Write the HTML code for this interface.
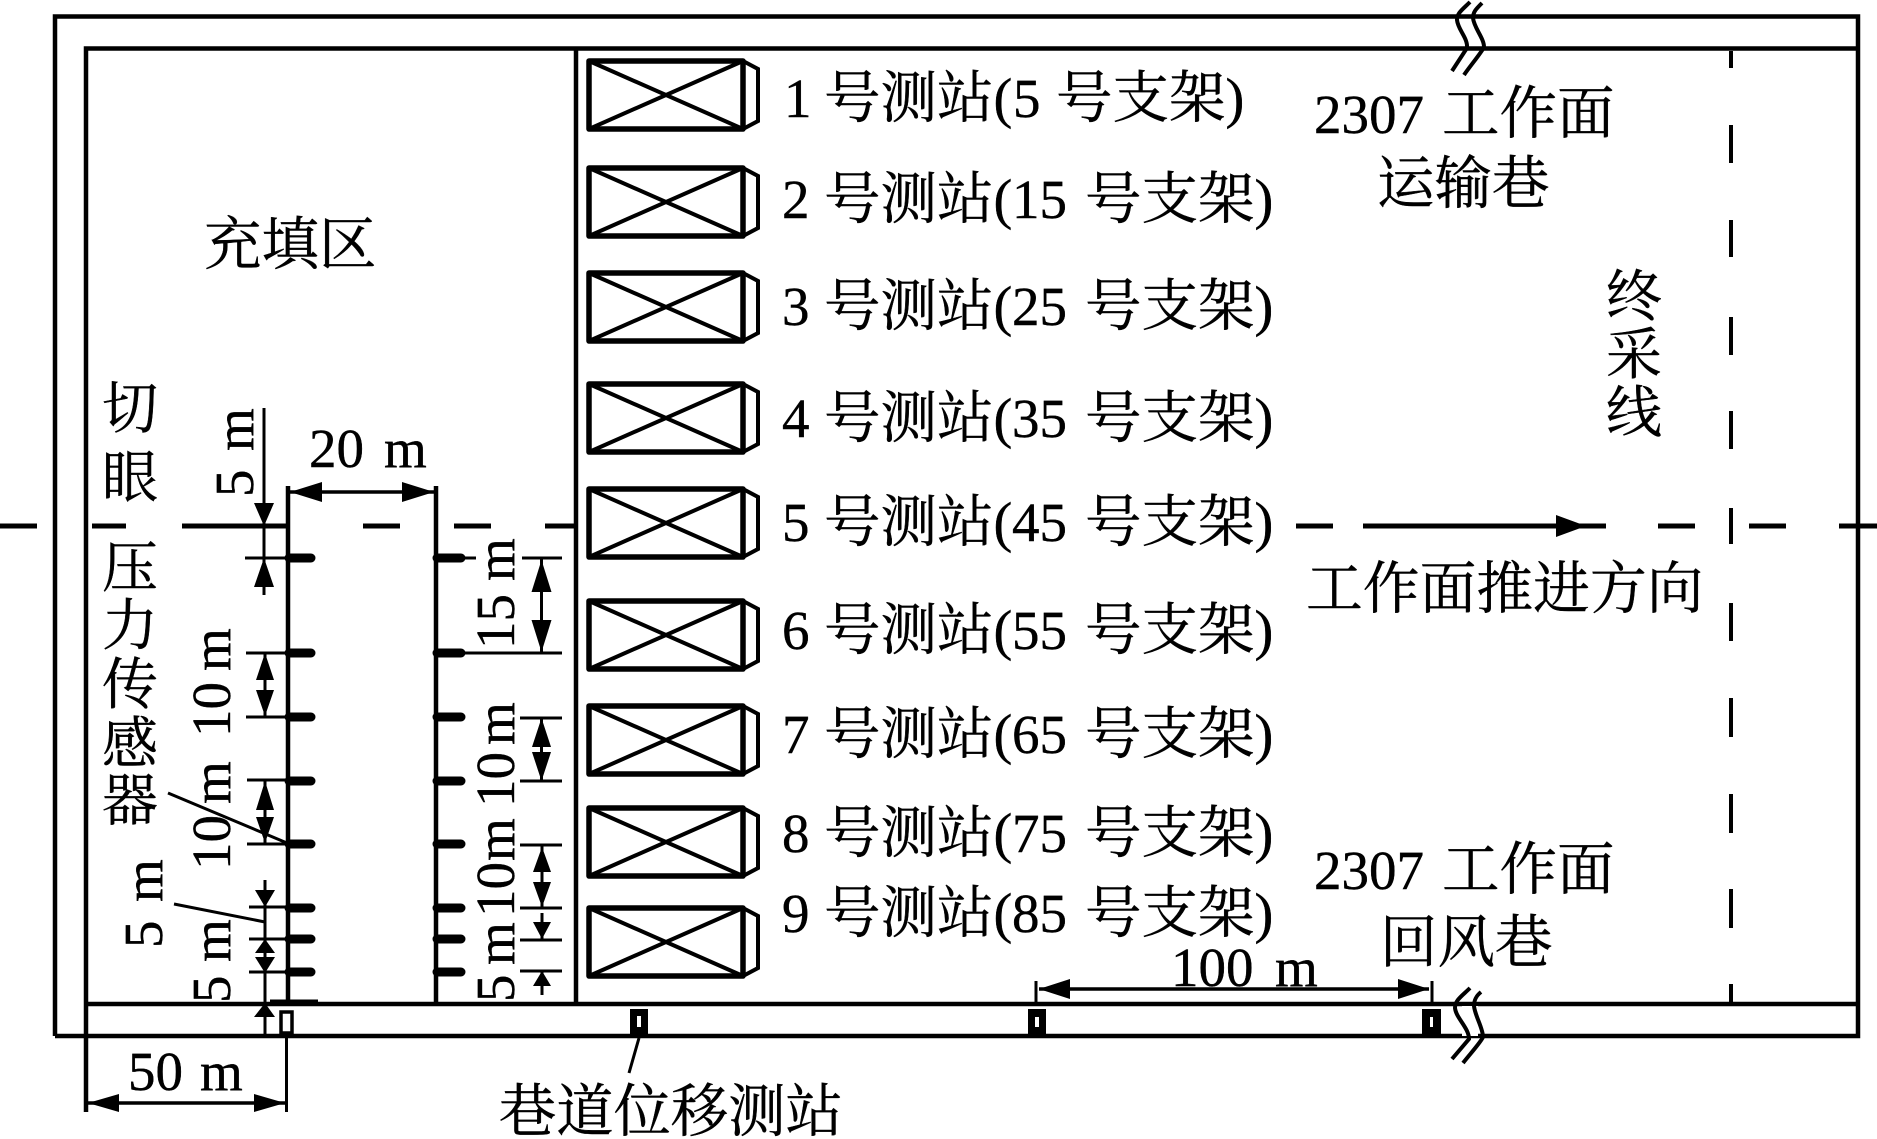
<!DOCTYPE html>
<html lang="zh"><head><meta charset="utf-8"><style>
html,body{margin:0;padding:0;background:#fff}
svg{display:block}
text{font-family:"Liberation Serif","Noto Serif CJK SC",serif;font-size:55px;fill:#000;stroke:#000;stroke-width:.4}
.k{font-size:56.500px}
.l{stroke:#000;fill:none;stroke-width:4.5}
.t{stroke:#000;fill:none;stroke-width:3}
.s{stroke:#000;fill:none;stroke-width:9;stroke-linecap:round}
.f{fill:#000;stroke:none}
.c{font-size:56px;text-anchor:middle}
.b{stroke:#000;fill:#fff;stroke-width:5.5;stroke-linejoin:round}
.x{stroke:#000;fill:none;stroke-width:4}
</style></head><body>
<svg xmlns="http://www.w3.org/2000/svg" width="1877" height="1139" viewBox="0 0 1877 1139">
<defs>
<g id="box"><rect class="b" x="589" y="0" width="154" height="68"/><path class="x" d="M589 0L743 68M589 68L743 0"/><path class="x" d="M743 0L758 8V60L743 68"/></g>
</defs>
<rect width="1877" height="1139" fill="#fff"/>
<!-- frame -->
<path class="l" d="M55 1036V16.500H1858V1036H55M86 1112V48.500H1858M86 1004H1858M576 48.500V1004"/>
<!-- end line dashes -->
<path d="M1731 51V68M1731 125V163M1731 220V257M1731 317V355M1731 411V449M1731 508V544M1731 603V641M1731 698V737M1731 794V833M1731 889V928M1731 984V1004" stroke="#000" stroke-width="4" fill="none"/>
<!-- break marks -->
<path d="M1462 19H1478V46H1462ZM1462 1006H1478V1036H1462Z" fill="#fff"/>
<path class="x" d="M1470 2C1462 10 1457 13 1457 20C1458 30 1468 38 1467 48L1452 71M1482 3C1476 9 1473 12 1473 18C1474 28 1484 38 1484 47C1482 52 1470 66 1464 75"/>
<path class="x" d="M1470 988C1462 996 1455 1000 1455 1008C1456 1018 1469 1028 1469 1039L1452 1059M1481 992C1476 996 1474 1000 1474 1006C1475 1016 1483 1028 1483 1037C1481 1042 1470 1054 1463 1063"/>
<!-- horizontal centreline -->
<path d="M0 526H37M92 526H126M182 526H288M363 526H400M454 526H491M545 526H576M1296 526H1333M1363 526H1606M1658 526H1695M1749 526H1786M1839 526H1877" stroke="#000" stroke-width="5" fill="none"/>
<path class="f" d="M1556 515L1586 526L1556 537Z"/>
<!-- boxes -->
<use href="#box" y="61"/><use href="#box" y="168"/><use href="#box" y="273"/><use href="#box" y="384"/><use href="#box" y="489"/><use href="#box" y="601"/><use href="#box" y="706"/><use href="#box" y="808"/><use href="#box" y="908"/>
<!-- station labels -->
<text y="117"><tspan x="784">1</tspan><tspan class="k" x="824">号测站(</tspan><tspan x="1013">5</tspan><tspan class="k" x="1056">号支架)</tspan></text>
<text y="218"><tspan x="782">2</tspan><tspan class="k" x="824">号测站(</tspan><tspan x="1012">15</tspan><tspan class="k" x="1085">号支架)</tspan></text>
<text y="325"><tspan x="782">3</tspan><tspan class="k" x="824">号测站(</tspan><tspan x="1012">25</tspan><tspan class="k" x="1085">号支架)</tspan></text>
<text y="437"><tspan x="782">4</tspan><tspan class="k" x="824">号测站(</tspan><tspan x="1012">35</tspan><tspan class="k" x="1085">号支架)</tspan></text>
<text y="541"><tspan x="782">5</tspan><tspan class="k" x="824">号测站(</tspan><tspan x="1012">45</tspan><tspan class="k" x="1085">号支架)</tspan></text>
<text y="649"><tspan x="782">6</tspan><tspan class="k" x="824">号测站(</tspan><tspan x="1012">55</tspan><tspan class="k" x="1085">号支架)</tspan></text>
<text y="753"><tspan x="782">7</tspan><tspan class="k" x="824">号测站(</tspan><tspan x="1012">65</tspan><tspan class="k" x="1085">号支架)</tspan></text>
<text y="852"><tspan x="782">8</tspan><tspan class="k" x="824">号测站(</tspan><tspan x="1012">75</tspan><tspan class="k" x="1085">号支架)</tspan></text>
<text y="932"><tspan x="782">9</tspan><tspan class="k" x="824">号测站(</tspan><tspan x="1012">85</tspan><tspan class="k" x="1085">号支架)</tspan></text>
<!-- area labels -->
<text x="204" y="264" style="font-size:57.500px">充填区</text>
<text class="c" x="130" y="428">切</text><text class="c" x="130" y="497">眼</text>
<text class="c" x="130" y="587">压</text><text class="c" x="130" y="645">力</text><text class="c" x="130" y="704">传</text><text class="c" x="130" y="763">感</text><text class="c" x="130" y="820">器</text>
<text class="c" x="1634" y="316">终</text><text class="c" x="1634" y="374">采</text><text class="c" x="1634" y="432">线</text>
<text y="133"><tspan x="1314">2307</tspan><tspan style="font-size:57.500px" x="1442">工作面</tspan></text>
<text x="1377" y="203" style="font-size:57.500px">运输巷</text>
<text y="889"><tspan x="1314">2307</tspan><tspan style="font-size:57.500px" x="1442">工作面</tspan></text>
<text x="1380" y="962" style="font-size:57.500px">回风巷</text>
<text x="1306" y="608" style="font-size:56.800px">工作面推进方向</text>
<text x="499" y="1131" style="font-size:57.300px">巷道位移测站</text>
<!-- dim labels -->
<text y="467"><tspan x="309">20</tspan><tspan x="384">m</tspan></text>
<text y="1090"><tspan x="128">50</tspan><tspan x="200">m</tspan></text>
<text y="986"><tspan x="1171">100</tspan><tspan x="1275">m</tspan></text>
<text transform="translate(253,497) rotate(-90)"><tspan x="0">5</tspan><tspan x="46">m</tspan></text>
<text transform="translate(230,737) rotate(-90)"><tspan x="0">10</tspan><tspan x="66">m</tspan></text>
<text transform="translate(230,870) rotate(-90)"><tspan x="0">10</tspan><tspan x="66">m</tspan></text>
<text transform="translate(162,948) rotate(-90)"><tspan x="0">5</tspan><tspan x="46">m</tspan></text>
<text transform="translate(230,1003) rotate(-90)"><tspan x="0">5</tspan><tspan x="41">m</tspan></text>
<text transform="translate(514,649) rotate(-90)"><tspan x="0">15</tspan><tspan x="68">m</tspan></text>
<text transform="translate(514,807) rotate(-90)"><tspan x="0">10</tspan><tspan x="62">m</tspan></text>
<text transform="translate(514,917) rotate(-90)"><tspan x="0">10</tspan><tspan x="56">m</tspan></text>
<text transform="translate(514,1002) rotate(-90)"><tspan x="0">5</tspan><tspan x="37">m</tspan></text>
<!-- sensor lines -->
<path class="l" d="M288 486V1004M436 486V1004"/>
<path class="s" d="M289 558H311M289 653H311M289 717H311M289 781H311M289 844H311M289 908H311M289 939H311M289 972H311M437 558H461M437 653H461M437 717H461M437 781H461M437 844H461M437 908H461M437 939H461M437 972H461"/>
<!-- thin dims -->
<path class="t" d="M264 408V595M245 558H288M246 653H288M246 717H288M247 780H288M247 844H288M249 907H288M249 939H288M249 972H288M265 653V717M265 780V844M265 880V1034M270 1001H318"/>
<path class="t" d="M465 558H476M522 558H562M465 653H562M520 718H562M520 781H562M520 845H562M520 908H562M520 940H562M520 971H562M541.500 558V652M541.500 718V781M542 845V908M542 913V939M542 971V995"/>
<path class="t" d="M168 793L287 843M174 904L265 922M639 1038L629 1073"/>
<path class="t" d="M86 1036V1112M286.500 1036V1112M1036 981V1004M1432 981V1004"/>
<!-- dim arrows -->
<path class="t" style="stroke-width:3.500" d="M290 492H434M88 1103H285M1039 989H1429"/>
<path class="f" d="M290 492L322 482V502ZM434 492L402 482V502ZM88 1103L119 1094V1112ZM285 1103L254 1094V1112ZM1039 989L1070 979V999ZM1429 989L1398 979V999Z"/>
<path class="f" d="M264 526L254 503H274ZM264 558L254 587H274ZM265 653L256 680H274ZM265 716L256 690H274ZM265 781L256 810H274ZM265 843L256 817H274ZM265 907L255 890H275ZM265 939L255 953H275ZM265 973L255 957H275ZM265 1003L254 1017H275Z"/>
<path class="f" d="M541.500 560L531.500 592H551.500ZM541.500 652L531.500 620H551.500ZM541.500 718L532 747H551ZM541.500 781L532 752H551ZM542 847L533 872H551ZM542 907L533 882H551ZM542 939L533 922H551ZM542 971L533 986H551Z"/>
<!-- displacement stations -->
<rect x="281" y="1012" width="11" height="21" fill="#fff" stroke="#000" stroke-width="3.500"/>
<rect class="f" x="630" y="1009" width="18" height="26"/><rect x="637" y="1016" width="4" height="11" fill="#fff"/>
<rect class="f" x="1028" y="1009" width="18" height="26"/><rect x="1035" y="1017" width="4" height="10" fill="#fff"/>
<rect class="f" x="1422" y="1009" width="19" height="26"/><rect x="1430" y="1017" width="3" height="10" fill="#fff"/>
</svg>
</body></html>
